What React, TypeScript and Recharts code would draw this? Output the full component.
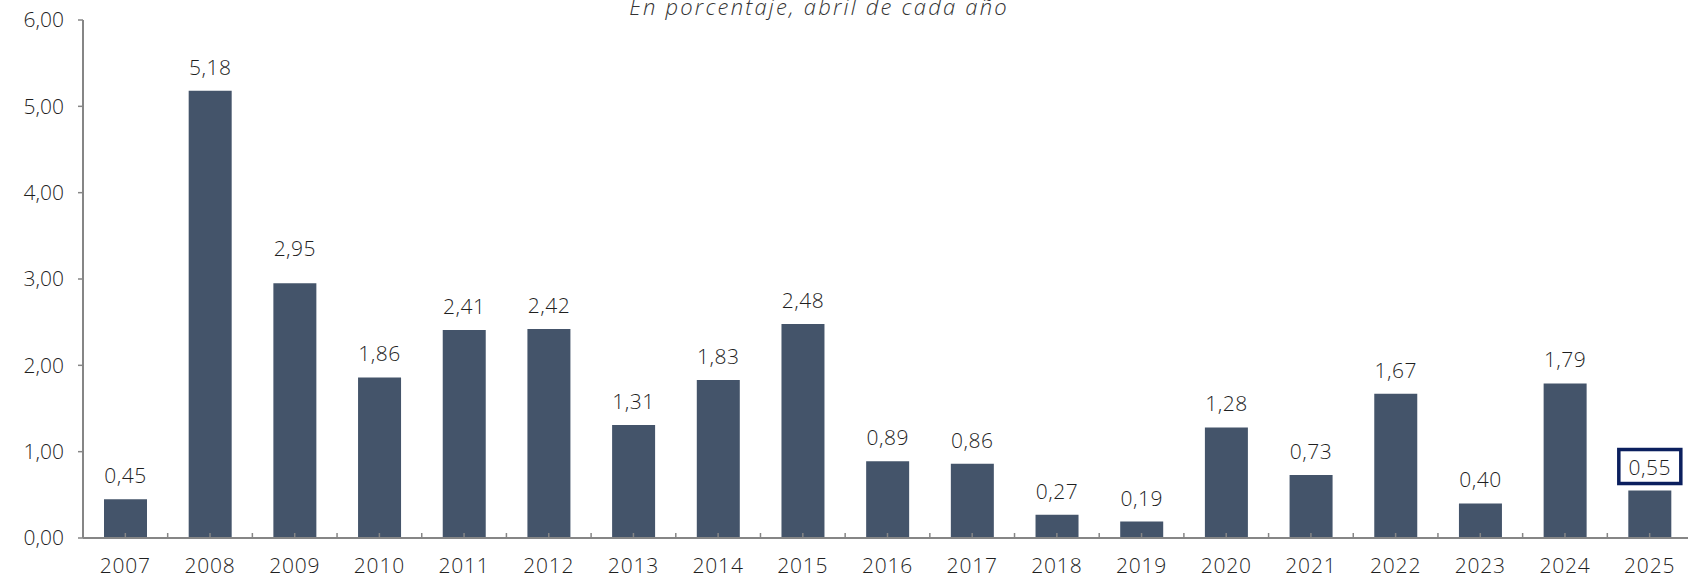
import React from "react";
import { BarChart, Bar, XAxis, YAxis, LabelList } from "recharts";

// Tasa anual, abril de cada año
const years = [
  "2007", "2008", "2009", "2010", "2011", "2012", "2013", "2014", "2015", "2016",
  "2017", "2018", "2019", "2020", "2021", "2022", "2023", "2024", "2025",
];
const values = [
  0.45, 5.18, 2.95, 1.86, 2.41, 2.42, 1.31, 1.83, 2.48, 0.89,
  0.86, 0.27, 0.19, 1.28, 0.73, 1.67, 0.4, 1.79, 0.55,
];
const yTicks = [0, 1, 2, 3, 4, 5, 6];
const highlightYear = "2025";
const subtitle = "En porcentaje, abril de cada año";

const data = years.map((year, i) => ({ year, value: values[i] }));

const WIDTH = 1692;
const HEIGHT = 575;
const MARGIN = { top: 20, right: 0, bottom: 0, left: 11 };
const Y_AXIS_W = 72;
const BAND = (WIDTH - MARGIN.left - Y_AXIS_W - MARGIN.right) / years.length;

const BAR = "#44546A";
const AXIS = "#868686";
const TEXT = "#1f1f1f";
const BOX = "#0B1F5E";
const FONT = "'Open Sans', sans-serif";

// the 2009 label sits a bit higher in the original
const labelLift: Record<string, number> = { "2009": 11 };

const fmt = (v: number) => v.toFixed(2).replace(".", ",");

const XTick = (props: any) => {
  const { x, y, payload } = props;
  return (
    <g>
      <line x1={x} y1={y} x2={x} y2={y - 5} stroke={AXIS} strokeWidth={1.5} />
      <line x1={x + BAND / 2} y1={y} x2={x + BAND / 2} y2={y - 5} stroke={AXIS} strokeWidth={1.5} />
      <text
        x={x}
        y={y + 35}
        textAnchor="middle"
        fill={TEXT}
        fontSize={21}
        fontFamily={FONT}
        fontWeight={300}
        letterSpacing={0.8}
      >
        {payload.value}
      </text>
    </g>
  );
};

const ValueLabel = (props: any) => {
  const { x, y, width, value, index } = props;
  const cx = x + width / 2;
  const by = y - 16 - (labelLift[years[index]] || 0);
  const boxed = years[index] === highlightYear;
  return (
    <g>
      {boxed && (
        <rect x={cx - 31} y={by - 25} width={62} height={34} fill="#fff" stroke={BOX} strokeWidth={3.5} />
      )}
      <text
        x={cx}
        y={by}
        textAnchor="middle"
        fill={TEXT}
        fontSize={21}
        fontFamily={FONT}
        fontWeight={300}
        letterSpacing={0.5}
      >
        {fmt(value)}
      </text>
    </g>
  );
};

export default function App() {
  return (
    <div
      style={{
        position: "absolute",
        left: 0,
        top: 0,
        width: 1688,
        height: HEIGHT,
        overflow: "hidden",
        background: "#fff",
      }}
    >
      <div
        style={{
          position: "absolute",
          top: -5,
          left: 519,
          width: 600,
          textAlign: "center",
          fontFamily: FONT,
          fontStyle: "italic",
          fontWeight: 300,
          fontSize: 22,
          letterSpacing: 2.2,
          lineHeight: "22px",
          color: "#333",
          whiteSpace: "nowrap",
        }}
      >
        {subtitle}
      </div>
      <BarChart width={WIDTH} height={HEIGHT} data={data} margin={MARGIN} barSize={43}>
        <XAxis
          dataKey="year"
          height={37}
          axisLine={{ stroke: AXIS, strokeWidth: 2 }}
          tickLine={false}
          tickSize={0}
          tickMargin={0}
          interval={0}
          tick={<XTick />}
        />
        <YAxis
          width={Y_AXIS_W}
          domain={[0, 6]}
          ticks={yTicks}
          interval={0}
          tickFormatter={fmt}
          axisLine={{ stroke: AXIS, strokeWidth: 2 }}
          tickLine={{ stroke: AXIS, strokeWidth: 1.5 }}
          tickSize={5}
          tickMargin={14}
          tick={{ fill: TEXT, fontSize: 21, fontFamily: FONT, fontWeight: 300 }}
        />
        <Bar dataKey="value" fill={BAR} isAnimationActive={false}>
          <LabelList dataKey="value" content={<ValueLabel />} />
        </Bar>
      </BarChart>
    </div>
  );
}
